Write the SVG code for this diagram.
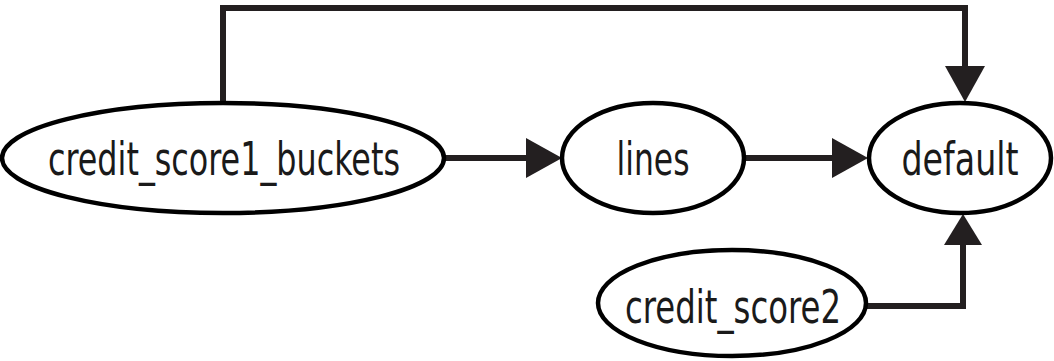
<svg xmlns="http://www.w3.org/2000/svg" width="1054" height="361" viewBox="0 0 1054 361">
<style>
.node ellipse{fill:#fff;stroke:#000;stroke-width:4.5}
.node text{font-family:"DejaVu Sans Condensed","Liberation Sans Narrow","Liberation Sans",sans-serif;font-size:46px;fill:#1a1a1a;text-anchor:middle}
.edge{fill:none;stroke:#231f20;stroke-width:6}
.head{fill:#231f20}
</style>
<rect width="1054" height="361" fill="#fff"/>
<g id="connectors">
<path class="edge" d="M223,103 V8 H965 V68"/>
<polygon class="head" points="945,66 985,66 965,102"/>
<path class="edge" d="M446,158 H528"/>
<polygon class="head" points="526,138 526,178 562,158"/>
<path class="edge" d="M746,158 H834"/>
<polygon class="head" points="832,138 832,178 868,158"/>
<path class="edge" d="M867,306 H963 V243"/>
<polygon class="head" points="944,245 982,245 963,214"/>
</g>
<g id="credit_score1_buckets" class="node">
<ellipse cx="223" cy="158" rx="221" ry="55"/>
<text x="224" y="175" textLength="352" lengthAdjust="spacingAndGlyphs">credit_score1_buckets</text>
</g>
<g id="lines" class="node">
<ellipse cx="653" cy="158" rx="91" ry="55"/>
<text x="653" y="175" textLength="73" lengthAdjust="spacingAndGlyphs">lines</text>
</g>
<g id="default" class="node">
<ellipse cx="960" cy="158" rx="91" ry="55"/>
<text x="960" y="175" textLength="117" lengthAdjust="spacingAndGlyphs">default</text>
</g>
<g id="credit_score2" class="node">
<ellipse cx="732" cy="303" rx="134" ry="53"/>
<text x="733" y="323" textLength="216" lengthAdjust="spacingAndGlyphs">credit_score2</text>
</g>
</svg>
